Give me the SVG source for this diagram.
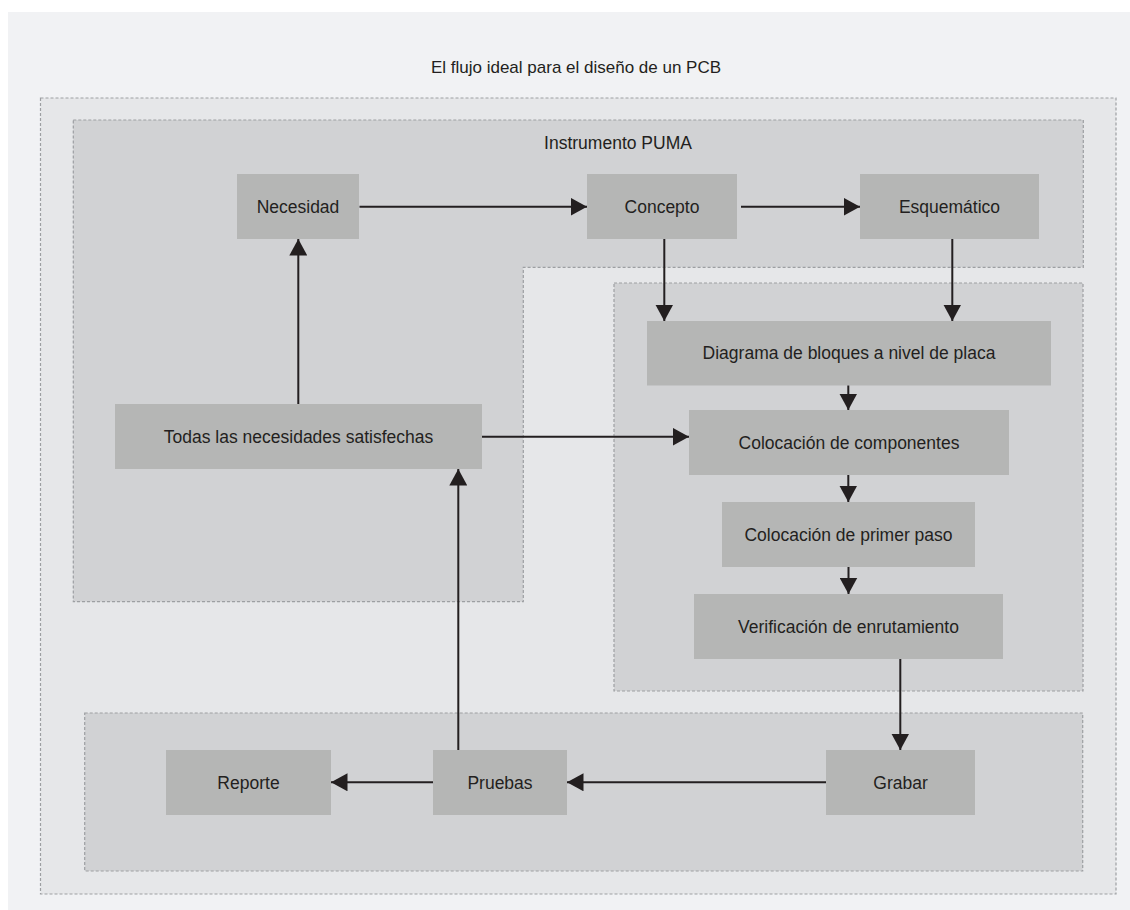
<svg xmlns="http://www.w3.org/2000/svg" width="1130" height="910" viewBox="0 0 1130 910">
  <style>
    .zone { stroke: #9d9fa2; stroke-width: 1.2; stroke-dasharray: 3 2; }
    .node rect { fill: #b5b6b5; }
    text { font-family: "Liberation Sans", Arial, sans-serif; fill: #231f20; text-anchor: middle; }
    .label { font-size: 17.5px; }
    .title { font-size: 17px; }
    .conn line { stroke: #231f20; stroke-width: 2; fill: none; marker-end: url(#arrow); }
  </style>
  <defs>
    <marker id="arrow" markerUnits="userSpaceOnUse" markerWidth="17" markerHeight="18" refX="16.5" refY="9" orient="auto">
      <path d="M0,0 L16.5,9 L0,18 Z" fill="#231f20"/>
    </marker>
  </defs>

  <!-- page background -->
  <rect x="0" y="0" width="1130" height="910" fill="#ffffff"/>
  <rect x="8" y="12" width="1122" height="898" fill="#f1f2f4"/>

  <!-- outer flow frame -->
  <rect class="zone" x="40.5" y="98" width="1075.5" height="796" fill="#e6e7e9"/>
  <text class="title" x="576" y="72.5">El flujo ideal para el diseño de un PCB</text>

  <!-- PUMA instrument zone (L-shaped) -->
  <path class="zone" d="M73.3,120 H1083.3 V267.3 H523.3 V601.7 H73.3 Z" fill="#d1d2d4"/>
  <text class="label" x="618" y="149">Instrumento PUMA</text>

  <!-- layout zone -->
  <rect class="zone" x="614" y="283" width="469" height="408" fill="#d1d2d4"/>

  <!-- fabrication zone -->
  <rect class="zone" x="84.7" y="713" width="998" height="158" fill="#d1d2d4"/>

  <!-- nodes -->
  <g id="necesidad" class="node">
    <rect x="237" y="174" width="122" height="65"/>
    <text class="label" x="298" y="212.5">Necesidad</text>
  </g>
  <g id="concepto" class="node">
    <rect x="587" y="174" width="150" height="65"/>
    <text class="label" x="662" y="212.5">Concepto</text>
  </g>
  <g id="esquematico" class="node">
    <rect x="860" y="174" width="179" height="65"/>
    <text class="label" x="949.5" y="212.5">Esquemático</text>
  </g>
  <g id="diagrama" class="node">
    <rect x="647" y="321" width="404" height="64.5"/>
    <text class="label" x="849" y="359">Diagrama de bloques a nivel de placa</text>
  </g>
  <g id="todas" class="node">
    <rect x="115" y="404" width="367" height="65"/>
    <text class="label" x="298.5" y="442.5">Todas las necesidades satisfechas</text>
  </g>
  <g id="colocacion-componentes" class="node">
    <rect x="689" y="410" width="320" height="65"/>
    <text class="label" x="849" y="448.5">Colocación de componentes</text>
  </g>
  <g id="colocacion-primer-paso" class="node">
    <rect x="722" y="502" width="253" height="65"/>
    <text class="label" x="848.5" y="540.5">Colocación de primer paso</text>
  </g>
  <g id="verificacion" class="node">
    <rect x="694" y="594" width="309" height="65"/>
    <text class="label" x="848.5" y="632.5">Verificación de enrutamiento</text>
  </g>
  <g id="grabar" class="node">
    <rect x="826" y="750" width="149" height="65"/>
    <text class="label" x="900.5" y="788.5">Grabar</text>
  </g>
  <g id="pruebas" class="node">
    <rect x="433" y="750" width="134" height="65"/>
    <text class="label" x="500" y="788.5">Pruebas</text>
  </g>
  <g id="reporte" class="node">
    <rect x="166" y="750" width="165" height="65"/>
    <text class="label" x="248.5" y="788.5">Reporte</text>
  </g>

  <!-- connectors -->
  <g id="connectors" class="conn">
    <line x1="359.5" y1="206.7" x2="587" y2="206.7"/>
    <line x1="741" y1="206.7" x2="860" y2="206.7"/>
    <line x1="664.3" y1="239" x2="664.3" y2="321"/>
    <line x1="952.3" y1="239" x2="952.3" y2="321"/>
    <line x1="848.3" y1="385.5" x2="848.3" y2="410"/>
    <line x1="848.3" y1="475" x2="848.3" y2="502"/>
    <line x1="848.5" y1="567" x2="848.5" y2="594"/>
    <line x1="900.3" y1="659" x2="900.3" y2="750"/>
    <line x1="826" y1="782.3" x2="567" y2="782.3"/>
    <line x1="433" y1="782.3" x2="331" y2="782.3"/>
    <line x1="458.3" y1="750" x2="458.3" y2="469"/>
    <line x1="482" y1="436.7" x2="689" y2="436.7"/>
    <line x1="298.3" y1="404" x2="298.3" y2="239"/>
  </g>
</svg>
